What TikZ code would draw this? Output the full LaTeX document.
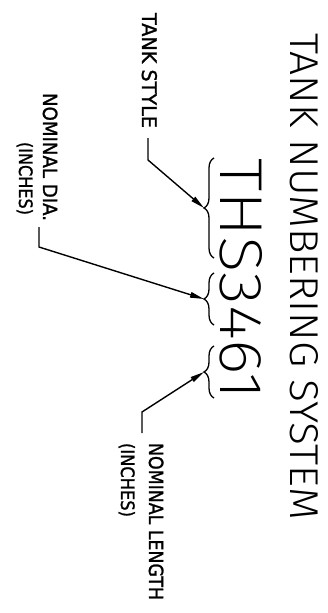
\documentclass[tikz,border=0pt]{standalone}
\usepackage{fontspec}
\usetikzlibrary{arrows.meta,decorations.pathreplacing}
% thin faces for the title and code, plain sans for the callouts
\IfFontExistsTF{Fira Sans ExtraLight}
  {\newfontfamily\thinfont{Fira Sans ExtraLight}}
  {\newfontfamily\thinfont{Fira Sans}}
\IfFontExistsTF{Fira Sans Light}
  {\newfontfamily\headfont{Fira Sans Light}}
  {\newfontfamily\headfont{Fira Sans}}
\newfontfamily\lblfont{DejaVu Sans}[FakeBold=1.3]
\tikzset{
  vtext/.style={rotate=-90, inner sep=0pt, outer sep=0pt, anchor=base west},
  bracemark/.style={line width=1.3pt, decorate,
    decoration={brace, amplitude=10pt}},
  leader/.style={line width=1.4pt, line join=miter,
    -{Triangle[length=14pt,width=5.5pt]}},
}
\begin{document}
\begin{tikzpicture}[x=1pt, y=-1pt]
  \useasboundingbox (0,0) rectangle (327,613);

  % heading
  \node[vtext] (title) at (290,33)
    {\resizebox{487pt}{28pt}{\headfont TANK NUMBERING SYSTEM}};

  % sample tank number
  \node[vtext] (code) at (220,158)
    {\resizebox{242pt}{42pt}{\thinfont THS3461}};

  % braces grouping the fields
  \draw[bracemark] (214,258) -- (214,158);
  \draw[bracemark] (214,325) -- (214,273);
  \draw[bracemark] (214,398) -- (214,346);
  \coordinate (tipstyle) at (204,208);
  \coordinate (tipdia)   at (204,299);
  \coordinate (tiplen)   at (204,372);

  % callout texts
  \node[vtext] (lstyle) at (142,13)
    {\resizebox{115pt}{15pt}{\lblfont TANK STYLE}};
  \node[vtext] (ldia) at (43,93)
    {\resizebox{128pt}{14.5pt}{\lblfont NOMINAL DIA.}};
  \node[vtext] (ldiain) at (19,142)
    {\resizebox{73pt}{14pt}{\lblfont (INCHES)}};
  \node[vtext] (llen) at (149,443)
    {\resizebox{157pt}{14.5pt}{\lblfont NOMINAL LENGTH}};
  \node[vtext] (lleni) at (121,443)
    {\resizebox{74pt}{14pt}{\lblfont (INCHES)}};

  % leader lines
  \coordinate (sstyle) at (148,138);
  \coordinate (kstyle) at (148,160);
  \coordinate (sdia)   at (39,227);
  \coordinate (kdia)   at (39,247);
  \coordinate (slen)   at (142,433);
  \coordinate (klen)   at (142,412);
  \draw[leader] (sstyle) -- (kstyle) -- (tipstyle);
  \draw[leader] (sdia) -- (kdia) -- (tipdia);
  \draw[leader] (slen) -- (klen) -- (tiplen);
\end{tikzpicture}
\end{document}
